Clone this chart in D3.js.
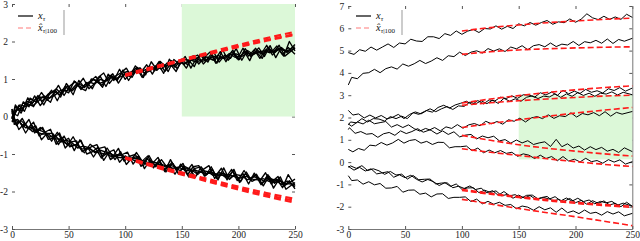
<!DOCTYPE html>
<html>
<head>
<meta charset="utf-8">
<script src="https://cdn.jsdelivr.net/npm/d3@7"></script>
<style>
body { margin: 0; background: #fff; }
svg { display: block; }
svg text { font-family: "Liberation Serif", "Times New Roman", serif; }
</style>
</head>
<body>
<svg id="chart"></svg>
<script>
// time index of the sampled paths and of the forecasts
const steps = d3.range(0, 251, 5);
const fcSteps = [100, 125, 150, 175, 200, 225, 250];
const xTicks = [0, 50, 100, 150, 200, 250];
const leftYTicks = [-3, -2, -1, 0, 1, 2, 3];
const rightYTicks = [-3, -2, -1, 0, 1, 2, 3, 4, 5, 6, 7];
// each path is sampled a few steps out of phase with the others
const leftShift = [0, 2, 4, 1, 3, 2, 1, 3, 0, 4, 2, 3];
const rightShift = [0, 2, 1, 3, 4, 2, 1, 3, 0, 2];

// left panel, upper bundle of realisations x_tau
const leftUp = [
  [0.10, 0.02, 0.39, 0.26, 0.55, 0.29, 0.51, 0.70, 0.42, 0.72,
   0.63, 0.95, 0.77, 0.69, 1.00, 0.96, 0.78, 1.13, 0.96, 1.26,
   0.99, 1.18, 1.30, 1.04, 1.31, 1.25, 1.47, 1.20, 1.39, 1.20,
   1.53, 1.38, 1.62, 1.40, 1.58, 1.72, 1.42, 1.59, 1.52, 1.77,
   1.51, 1.74, 1.49, 1.82, 1.66, 1.90, 1.64, 1.81, 1.61, 2.00, 1.75],
  [-0.06, 0.31, 0.09, 0.40, 0.35, 0.56, 0.31, 0.59, 0.71, 0.52,
   0.88, 0.68, 0.82, 1.02, 0.74, 0.88, 1.07, 0.80, 1.09, 0.96,
   1.24, 0.96, 1.21, 1.30, 1.11, 1.46, 1.25, 1.41, 1.20, 1.52,
   1.39, 1.60, 1.29, 1.56, 1.64, 1.45, 1.73, 1.45, 1.64, 1.55,
   1.81, 1.50, 1.76, 1.66, 1.83, 1.60, 1.89, 1.57, 1.84, 1.71, 1.92],
  [0.20, 0.05, 0.30, 0.14, 0.49, 0.39, 0.64, 0.43, 0.58, 0.83,
   0.56, 0.81, 0.93, 0.72, 0.91, 0.74, 1.04, 1.16, 0.88, 1.07,
   1.16, 1.29, 1.04, 1.31, 1.04, 1.34, 1.22, 1.47, 1.32, 1.49,
   1.27, 1.53, 1.50, 1.33, 1.65, 1.48, 1.67, 1.42, 1.78, 1.50,
   1.68, 1.52, 1.81, 1.60, 1.72, 1.55, 1.85, 1.70, 1.90, 1.61, 1.83],
  [-0.14, 0.18, 0.16, 0.50, 0.26, 0.52, 0.50, 0.38, 0.74, 0.60,
   0.82, 0.58, 0.96, 0.77, 0.93, 1.07, 0.82, 1.01, 1.14, 0.89,
   1.13, 1.07, 1.35, 1.18, 1.38, 1.13, 1.40, 1.15, 1.53, 1.31,
   1.49, 1.29, 1.56, 1.64, 1.40, 1.56, 1.49, 1.73, 1.46, 1.73,
   1.54, 1.82, 1.61, 1.78, 1.55, 1.78, 1.71, 1.88, 1.65, 1.84, 1.66],
  [0.12, 0.05, 0.31, 0.27, 0.33, 0.50, 0.42, 0.60, 0.67, 0.58,
   0.80, 0.69, 0.86, 0.77, 0.83, 0.99, 0.88, 0.93, 1.09, 0.98,
   1.15, 1.20, 1.12, 1.27, 1.16, 1.22, 1.35, 1.26, 1.43, 1.33,
   1.48, 1.39, 1.52, 1.46, 1.49, 1.59, 1.51, 1.63, 1.55, 1.68,
   1.58, 1.62, 1.73, 1.63, 1.76, 1.67, 1.79, 1.70, 1.83, 1.74, 1.86],
  [-0.03, 0.26, 0.19, 0.35, 0.28, 0.40, 0.55, 0.49, 0.57, 0.70,
   0.69, 0.73, 0.88, 0.81, 0.92, 0.87, 0.99, 0.94, 1.06, 1.02,
   1.09, 1.16, 1.21, 1.18, 1.25, 1.31, 1.23, 1.38, 1.35, 1.37,
   1.44, 1.42, 1.50, 1.55, 1.47, 1.52, 1.61, 1.55, 1.58, 1.65,
   1.67, 1.60, 1.69, 1.66, 1.72, 1.75, 1.70, 1.77, 1.79, 1.72, 1.82]
];

// left panel, lower bundle
const leftDown = [
  [0.10, -0.24, -0.05, -0.32, -0.15, -0.52, -0.42, -0.34, -0.74, -0.55,
   -0.77, -0.54, -0.81, -0.97, -0.74, -0.86, -1.11, -0.84, -1.07, -0.85,
   -1.19, -1.06, -1.01, -1.33, -1.12, -1.25, -1.09, -1.42, -1.29, -1.54,
   -1.27, -1.47, -1.28, -1.55, -1.41, -1.31, -1.65, -1.52, -1.63, -1.41,
   -1.71, -1.52, -1.80, -1.51, -1.71, -1.50, -1.80, -1.67, -1.90, -1.55, -1.84],
  [0.20, -0.21, -0.14, -0.44, -0.21, -0.42, -0.29, -0.61, -0.58, -0.44,
   -0.84, -0.68, -0.65, -0.94, -0.83, -1.08, -0.85, -0.81, -1.15, -1.04,
   -1.02, -0.95, -1.27, -1.06, -1.39, -1.16, -1.34, -1.15, -1.36, -1.25,
   -1.53, -1.32, -1.40, -1.62, -1.34, -1.55, -1.40, -1.69, -1.37, -1.68,
   -1.54, -1.74, -1.48, -1.73, -1.65, -1.85, -1.59, -1.78, -1.61, -1.94, -1.76],
  [-0.14, -0.08, -0.28, -0.08, -0.44, -0.29, -0.43, -0.66, -0.42, -0.67,
   -0.58, -0.91, -0.62, -0.89, -0.81, -0.75, -1.07, -0.96, -0.89, -1.22,
   -1.05, -1.17, -0.96, -1.19, -1.05, -1.37, -1.16, -1.47, -1.15, -1.43,
   -1.31, -1.56, -1.34, -1.31, -1.59, -1.47, -1.58, -1.38, -1.69, -1.45,
   -1.68, -1.44, -1.68, -1.55, -1.82, -1.62, -1.73, -1.60, -1.86, -1.71, -1.93],
  [-0.06, 0.05, -0.35, -0.18, -0.35, -0.25, -0.62, -0.45, -0.45, -0.75,
   -0.52, -0.81, -0.76, -0.64, -1.00, -0.94, -0.82, -1.17, -0.94, -1.15,
   -0.94, -1.28, -1.10, -1.07, -1.32, -1.04, -1.31, -1.21, -1.48, -1.22,
   -1.41, -1.25, -1.61, -1.39, -1.35, -1.58, -1.34, -1.66, -1.51, -1.63,
   -1.41, -1.76, -1.53, -1.67, -1.54, -1.80, -1.55, -1.91, -1.67, -1.84, -1.67],
  [0.15, -0.20, -0.11, -0.25, -0.40, -0.35, -0.41, -0.55, -0.50, -0.68,
   -0.63, -0.70, -0.84, -0.79, -0.83, -0.96, -0.90, -0.95, -1.08, -1.02,
   -1.04, -1.18, -1.11, -1.15, -1.27, -1.20, -1.24, -1.36, -1.29, -1.33,
   -1.44, -1.37, -1.41, -1.52, -1.44, -1.47, -1.58, -1.50, -1.53, -1.62,
   -1.55, -1.58, -1.69, -1.60, -1.64, -1.74, -1.66, -1.70, -1.81, -1.72, -1.87],
  [-0.04, -0.09, -0.16, -0.30, -0.29, -0.42, -0.47, -0.46, -0.59, -0.60,
   -0.71, -0.77, -0.75, -0.87, -0.84, -0.92, -0.97, -1.00, -0.98, -1.08,
   -1.10, -1.09, -1.16, -1.20, -1.18, -1.26, -1.28, -1.27, -1.34, -1.38,
   -1.35, -1.42, -1.45, -1.43, -1.49, -1.52, -1.50, -1.56, -1.57, -1.55,
   -1.61, -1.64, -1.60, -1.67, -1.69, -1.66, -1.73, -1.76, -1.72, -1.79, -1.81]
];

// left panel forecasts x̂_{tau|100}
const leftUpFc = [
  [1.10, 1.31, 1.52, 1.72, 1.91, 2.09, 2.26],
  [1.12, 1.33, 1.50, 1.69, 1.87, 2.04, 2.20],
  [1.08, 1.28, 1.48, 1.67, 1.85, 2.02, 2.18]
];
const leftDownFc = [
  [-1.10, -1.31, -1.52, -1.72, -1.91, -2.09, -2.25],
  [-1.12, -1.34, -1.55, -1.75, -1.95, -2.13, -2.30],
  [-1.09, -1.29, -1.49, -1.68, -1.87, -2.04, -2.20]
];

// right panel realisations
const rightPaths = [
  [4.91, 4.83, 5.04, 4.97, 5.16, 5.02, 5.16, 5.30, 5.14, 5.34,
   5.30, 5.51, 5.43, 5.41, 5.62, 5.62, 5.54, 5.76, 5.68, 5.88,
   5.73, 5.87, 5.95, 5.81, 5.99, 5.97, 6.11, 5.96, 6.09, 5.99,
   6.20, 6.11, 6.26, 6.14, 6.26, 6.35, 6.18, 6.29, 6.25, 6.42,
   6.27, 6.41, 6.65, 6.47, 6.39, 6.54, 6.40, 6.51, 6.40, 6.63, 6.49],
  [3.46, 3.80, 3.74, 3.98, 4.01, 4.16, 4.01, 4.19, 4.27, 4.17,
   4.40, 4.30, 4.41, 4.56, 4.42, 4.53, 4.68, 4.56, 4.77, 4.73,
   4.93, 4.78, 4.93, 4.99, 4.89, 5.09, 4.98, 5.08, 4.96, 5.16,
   5.08, 5.22, 5.04, 5.22, 5.27, 5.17, 5.34, 5.18, 5.29, 5.25,
   5.41, 5.23, 5.40, 5.35, 5.46, 5.33, 5.52, 5.32, 5.50, 5.42, 5.55],
  [2.32, 2.11, 2.16, 1.98, 2.11, 1.98, 2.09, 1.94, 2.01, 2.14,
   1.95, 2.14, 2.25, 2.16, 2.31, 2.24, 2.45, 2.55, 2.42, 2.56,
   2.64, 2.73, 2.58, 2.76, 2.61, 2.79, 2.74, 2.91, 2.85, 2.97,
   2.86, 3.02, 3.01, 2.91, 3.11, 3.01, 3.14, 2.99, 3.22, 3.06,
   3.18, 3.08, 3.26, 3.13, 3.20, 3.10, 3.29, 3.21, 3.34, 3.18, 3.32],
  [1.67, 1.80, 1.76, 1.95, 1.80, 1.95, 1.93, 1.84, 2.04, 1.95,
   2.06, 1.95, 2.22, 2.14, 2.27, 2.39, 2.26, 2.39, 2.49, 2.36,
   2.52, 2.50, 2.69, 2.61, 2.75, 2.62, 2.78, 2.63, 2.86, 2.73,
   2.84, 2.73, 2.91, 2.97, 2.85, 2.96, 2.92, 3.06, 2.90, 3.06,
   2.95, 3.11, 2.99, 3.09, 2.95, 3.09, 3.05, 3.15, 3.01, 3.13, 3.02],
  [1.46, 1.54, 1.29, 1.37, 1.25, 1.28, 1.11, 1.27, 1.33, 1.20,
   1.40, 1.28, 1.37, 1.50, 1.34, 1.43, 1.55, 1.40, 1.58, 1.51,
   1.68, 1.52, 1.67, 1.73, 1.63, 1.83, 1.72, 1.82, 1.70, 1.90,
   1.83, 1.97, 1.80, 1.98, 2.04, 1.95, 2.12, 1.96, 2.08, 2.04,
   2.21, 2.02, 2.18, 2.12, 2.22, 2.08, 2.26, 2.06, 2.23, 2.15, 2.27],
  [1.71, 1.61, 1.80, 1.71, 1.88, 1.72, 1.77, 1.82, 1.57, 1.68,
   1.55, 1.67, 1.50, 1.39, 1.51, 1.42, 1.26, 1.40, 1.24, 1.36,
   1.13, 1.21, 1.24, 1.04, 1.17, 1.09, 1.16, 0.95, 1.01, 0.85,
   0.99, 0.86, 0.96, 0.79, 0.86, 0.91, 0.70, 1.02, 0.69, 0.82,
   0.63, 0.72, 0.54, 0.69, 0.56, 0.66, 0.49, 0.57, 0.43, 0.64, 0.47],
  [0.57, 0.46, 0.61, 0.53, 0.76, 0.73, 0.88, 0.76, 0.86, 1.02,
   0.85, 0.97, 1.01, 0.85, 0.93, 0.79, 0.89, 0.88, 0.64, 0.69,
   0.69, 0.72, 0.51, 0.63, 0.42, 0.54, 0.42, 0.52, 0.39, 0.44,
   0.26, 0.37, 0.31, 0.16, 0.31, 0.16, 0.25, 0.06, 0.25, 0.05,
   0.13, 0.01, 0.17, 0.02, 0.07, -0.05, 0.11, 0.00, 0.10, -0.09, 0.02],
  [-0.23, -0.17, -0.28, -0.16, -0.38, -0.30, -0.39, -0.55, -0.42, -0.58,
   -0.54, -0.76, -0.60, -0.79, -0.77, -0.76, -0.98, -0.94, -0.93, -1.15,
   -1.08, -1.18, -1.07, -1.23, -1.17, -1.38, -1.28, -1.49, -1.32, -1.51,
   -1.46, -1.62, -1.49, -1.48, -1.65, -1.59, -1.66, -1.55, -1.74, -1.61,
   -1.75, -1.62, -1.77, -1.70, -1.87, -1.76, -1.83, -1.76, -1.93, -1.84, -1.98],
  [-0.19, -0.36, -0.24, -0.40, -0.30, -0.53, -0.48, -0.43, -0.68, -0.57,
   -0.70, -0.59, -0.77, -0.89, -0.78, -0.88, -1.05, -0.92, -1.09, -0.98,
   -1.22, -1.16, -1.15, -1.37, -1.26, -1.36, -1.29, -1.51, -1.45, -1.62,
   -1.48, -1.61, -1.50, -1.67, -1.59, -1.54, -1.75, -1.68, -1.76, -1.63,
   -1.82, -1.72, -1.89, -1.73, -1.85, -1.74, -1.92, -1.85, -2.00, -1.80, -1.98],
  [-0.61, -0.83, -0.80, -0.99, -0.88, -1.02, -0.96, -1.17, -1.16, -1.09,
   -1.35, -1.26, -1.25, -1.44, -1.39, -1.56, -1.43, -1.42, -1.63, -1.58,
   -1.58, -1.56, -1.77, -1.66, -1.87, -1.76, -1.89, -1.80, -1.94, -1.90,
   -2.09, -1.97, -2.02, -2.16, -2.00, -2.14, -2.05, -2.25, -2.06, -2.27,
   -2.19, -2.31, -2.15, -2.30, -2.25, -2.38, -2.22, -2.33, -2.23, -2.41, -2.30]
];

// right panel forecasts
const rightFc = [
  [5.88, 6.03, 6.15, 6.25, 6.33, 6.40, 6.46],
  [4.83, 4.95, 5.03, 5.08, 5.12, 5.15, 5.17],
  [2.65, 2.83, 2.98, 3.12, 3.24, 3.34, 3.42],
  [2.55, 2.66, 2.75, 2.83, 2.90, 2.96, 3.00],
  [1.55, 1.73, 1.90, 2.05, 2.20, 2.33, 2.45],
  [1.20, 0.98, 0.78, 0.62, 0.49, 0.37, 0.27],
  [0.60, 0.44, 0.30, 0.15, 0.02, -0.10, -0.20],
  [-1.22, -1.40, -1.55, -1.68, -1.80, -1.90, -1.98],
  [-1.27, -1.44, -1.59, -1.73, -1.85, -1.95, -2.03],
  [-1.67, -1.88, -2.08, -2.27, -2.45, -2.65, -2.85]
];

const serif = 'Liberation Serif, Times New Roman, serif';

const svg = d3.select('#chart')
    .attr('width', 640)
    .attr('height', 241);

svg.append('rect').attr('width', 640).attr('height', 241).attr('fill', '#fff');

// time of sample i on a path that is shifted by `s` steps
function stepAt(i, s) {
  if (i === 0) return 0;
  if (i === steps.length - 1) return 250;
  return steps[i] - s;
}

function panel(cfg) {
  const x = d3.scaleLinear().domain([0, 250]).range([cfg.left, cfg.right]);
  const y = d3.scaleLinear().domain(cfg.yDomain).range([229, cfg.top]);
  const g = svg.append('g');

  // ticks on top and right, pointing inward
  g.append('g')
      .attr('transform', 'translate(0,' + cfg.top + ')')
      .call(d3.axisTop(x).tickValues(xTicks).tickSizeInner(-3).tickSizeOuter(0).tickFormat(''))
      .call(a => a.select('.domain').remove());
  g.append('g')
      .attr('transform', 'translate(' + cfg.right + ',0)')
      .call(d3.axisRight(y).tickValues(cfg.yTicks).tickSizeInner(-3).tickSizeOuter(0).tickFormat(''))
      .call(a => { if (!cfg.rightLine) a.select('.domain').remove(); });

  // shaded region
  g.append('rect')
      .attr('x', x(cfg.shade[0]))
      .attr('y', y(cfg.shade[3]))
      .attr('width', x(cfg.shade[1]) - x(cfg.shade[0]))
      .attr('height', y(cfg.shade[2]) - y(cfg.shade[3]))
      .attr('fill', '#dcf8d8');

  g.append('g')
      .attr('transform', 'translate(0,229)')
      .call(d3.axisBottom(x).tickValues(xTicks).tickSizeInner(-3).tickSizeOuter(0).tickPadding(2))
      .attr('font-family', serif)
      .call(a => a.selectAll('text').attr('font-size', 9.5).attr('fill', '#222'));
  g.append('g')
      .attr('transform', 'translate(' + cfg.left + ',0)')
      .call(d3.axisLeft(y).tickValues(cfg.yTicks).tickSizeInner(-3).tickSizeOuter(0).tickPadding(4)
        .tickFormat(d => String(d)))
      .attr('font-family', serif)
      .call(a => a.select('.domain').remove())
      .call(a => a.selectAll('text').attr('font-size', 9.5).attr('fill', '#222'));

  g.selectAll('.tick line').attr('stroke', '#555');
  g.selectAll('.domain').attr('stroke', '#777');

  const fc = d3.line().x((d, i) => x(fcSteps[i])).y(d => y(d)).curve(d3.curveMonotoneX);

  g.selectAll('.path')
    .data(cfg.paths)
    .enter().append('path')
      .attr('class', 'path')
      .attr('d', (vals, k) => d3.line()
          .x((d, i) => x(stepAt(i, cfg.shift[k])))
          .y(d => y(d))(vals))
      .attr('fill', 'none')
      .attr('stroke', '#000')
      .attr('stroke-width', cfg.pathWidth)
      .attr('stroke-linejoin', 'round');

  g.selectAll('.fc')
    .data(cfg.forecasts)
    .enter().append('path')
      .attr('class', 'fc')
      .attr('d', fc)
      .attr('fill', 'none')
      .attr('stroke', '#ff1a1a')
      .attr('stroke-width', cfg.fcWidth)
      .attr('stroke-dasharray', cfg.dash);

  // legend
  const lg = g.append('g').attr('transform', 'translate(' + cfg.legend + ',0)')
      .attr('font-family', serif);
  lg.append('line').attr('x1', 0).attr('x2', 15).attr('y1', 16).attr('y2', 16)
      .attr('stroke', '#000').attr('stroke-width', 1.2);
  lg.append('line').attr('x1', 0).attr('x2', 15).attr('y1', 28).attr('y2', 28)
      .attr('stroke', '#ff7a7a').attr('stroke-width', 1.2).attr('stroke-dasharray', '5,3');
  lg.append('line').attr('x1', 46).attr('x2', 46).attr('y1', 10).attr('y2', 35)
      .attr('stroke', '#999').attr('stroke-width', 1);
  const t1 = lg.append('text').attr('x', 20).attr('y', 19).attr('font-size', 10.5).attr('fill', '#111');
  t1.append('tspan').attr('font-style', 'italic').text('x');
  t1.append('tspan').attr('font-size', 7).attr('dy', 2).attr('font-style', 'italic').text('τ');
  const t2 = lg.append('text').attr('x', 20).attr('y', 31).attr('font-size', 10.5).attr('fill', '#111');
  t2.append('tspan').attr('font-style', 'italic').text('x\u0302');
  t2.append('tspan').attr('font-size', 7).attr('dy', 2).attr('font-style', 'italic').text('τ');
  t2.append('tspan').attr('font-size', 7).text('|100');
}

panel({
  left: 12, right: 295, top: 4,
  yDomain: [-3, 3], yTicks: leftYTicks,
  shade: [150, 250, 0, 3],
  paths: leftUp.concat(leftDown),
  shift: leftShift,
  forecasts: leftUpFc.concat(leftDownFc),
  pathWidth: 1.35, fcWidth: 2.2, dash: '7,4',
  legend: 18, rightLine: false
});

panel({
  left: 348.3, right: 632.3, top: 6,
  yDomain: [-3, 7], yTicks: rightYTicks,
  shade: [150, 250, 0.12, 3.0],
  paths: rightPaths,
  shift: rightShift,
  forecasts: rightFc,
  pathWidth: 1, fcWidth: 1.6, dash: '6,3',
  legend: 356, rightLine: true
});
</script>
</body>
</html>
